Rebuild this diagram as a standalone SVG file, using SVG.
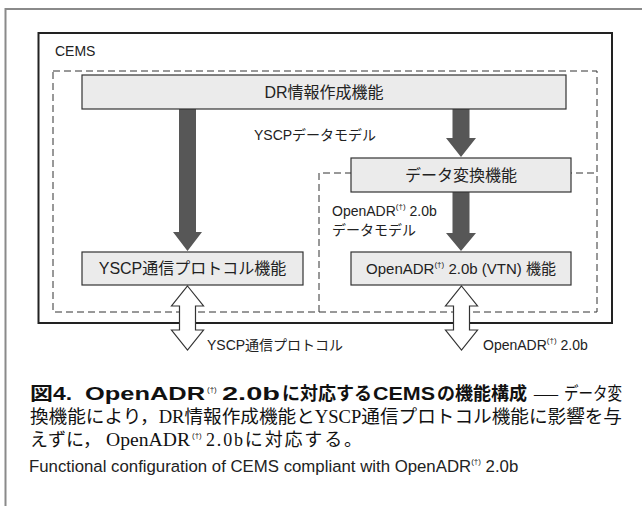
<svg xmlns="http://www.w3.org/2000/svg" width="642" height="506" viewBox="0 0 642 506">
<style>
.frame{stroke:#8a8a8a;stroke-width:2;fill:none}
.cems{fill:none;stroke:#222;stroke-width:2}
.dash{fill:none;stroke:#333;stroke-width:1;stroke-dasharray:7,4}
.box{fill:#ebebeb;stroke:#333;stroke-width:1.2}
.farrow{fill:#575757;stroke:none}
.harrow{fill:#fff;stroke:#333;stroke-width:1.2}
.t{font-family:"Liberation Sans","Noto Sans CJK JP",sans-serif;fill:#222}
.bt{font-size:16px}
.lt{font-size:14px}
.sup{font-size:8px}
.cap{font-family:"Liberation Serif","Noto Sans CJK JP",serif;font-size:18px;fill:#111}
.capb{font-family:"Liberation Sans","Noto Sans CJK JP",sans-serif;font-size:18px;font-weight:bold;fill:#111}
</style>
<rect width="642" height="506" fill="#fff"/>
<g id="frame">
<path class="frame" d="M5.5,506 V9 H642"/>
</g>
<g id="cems">
<rect class="cems" x="38.5" y="33" width="573.5" height="290"/>
<text class="t" x="55" y="56" font-size="14">CEMS</text>
<rect class="dash" x="53" y="71" width="544" height="241"/>
<path class="dash" d="M319,312 V173 H597"/>
</g>
<g id="connectors">
<polygon class="farrow" points="179,109 196,109 196,232 202,232 187.5,251 173,232 179,232"/>
<polygon class="farrow" points="452.5,109 469.5,109 469.5,138 476,138 461,157 446,138 452.5,138"/>
<polygon class="farrow" points="452.5,192 469.5,192 469.5,233 476,233 461,251 446,233 452.5,233"/>
<polygon class="harrow" points="187.5,286 203.5,306 195.5,306 195.5,330 203.5,330 187.5,350 171.5,330 179.5,330 179.5,306 171.5,306"/>
<polygon class="harrow" points="461.5,286 477.5,306 469.5,306 469.5,330 477.5,330 461.5,350 445.5,330 453.5,330 453.5,306 445.5,306"/>
<text class="t lt" x="254" y="140">YSCPデータモデル</text>
<text class="t lt" x="332" y="216">OpenADR<tspan class="sup" dy="-7">(†)</tspan><tspan dy="7"> 2.0b</tspan></text>
<text class="t lt" x="332" y="235">データモデル</text>
<text class="t lt" x="207" y="350">YSCP通信プロトコル</text>
<text class="t lt" x="483" y="350">OpenADR<tspan class="sup" dy="-7">(†)</tspan><tspan dy="7"> 2.0b</tspan></text>
</g>
<g id="dr">
<rect class="box" x="82" y="75" width="484" height="34"/>
<text class="t bt" x="324" y="98" text-anchor="middle">DR情報作成機能</text>
</g>
<g id="conv">
<rect class="box" x="351" y="158" width="220" height="34"/>
<text class="t bt" x="461" y="181" text-anchor="middle">データ変換機能</text>
</g>
<g id="yscp">
<rect class="box" x="82" y="252" width="221" height="33"/>
<text class="t bt" x="192.5" y="274" text-anchor="middle">YSCP通信プロトコル機能</text>
</g>
<g id="vtn">
<rect class="box" x="351" y="252" width="220" height="33"/>
<text class="t" font-size="15" x="461" y="274" text-anchor="middle">OpenADR<tspan class="sup" dy="-7">(†)</tspan><tspan dy="7"> 2.0b (VTN) 機能</tspan></text>
</g>
<g id="caption">
<text class="capb" x="30" y="400" textLength="42" lengthAdjust="spacingAndGlyphs">図4.</text>
<text class="capb" x="85" y="400" textLength="120" lengthAdjust="spacingAndGlyphs">OpenADR</text>
<text class="t sup" x="207" y="392">(†)</text>
<text class="capb" x="222" y="400" textLength="58" lengthAdjust="spacingAndGlyphs">2.0b</text>
<text class="capb" x="282" y="400">に対応する</text>
<text class="capb" x="373" y="400" textLength="62" lengthAdjust="spacingAndGlyphs">CEMS</text>
<text class="capb" x="437" y="400">の機能構成</text>
<text class="cap" x="534" y="400" textLength="24" lengthAdjust="spacingAndGlyphs">—</text>
<text class="cap" x="564" y="400" textLength="58" lengthAdjust="spacingAndGlyphs">データ変</text>
<text class="cap" x="30" y="423" textLength="592" lengthAdjust="spacingAndGlyphs">換機能により，DR情報作成機能とYSCP通信プロトコル機能に影響を与</text>
<text class="cap" x="30" y="446">えずに，</text>
<text class="cap" x="106" y="446" textLength="84" lengthAdjust="spacingAndGlyphs">OpenADR</text>
<text class="t sup" x="192" y="438">(†)</text>
<text class="cap" x="206" y="446" textLength="156" lengthAdjust="spacing">2.0bに対応する。</text>
<text class="t" x="29" y="472" font-size="16.8">Functional configuration of CEMS compliant with OpenADR<tspan class="sup" dy="-8">(†)</tspan><tspan dy="8"> 2.0b</tspan></text>
</g>
</svg>
